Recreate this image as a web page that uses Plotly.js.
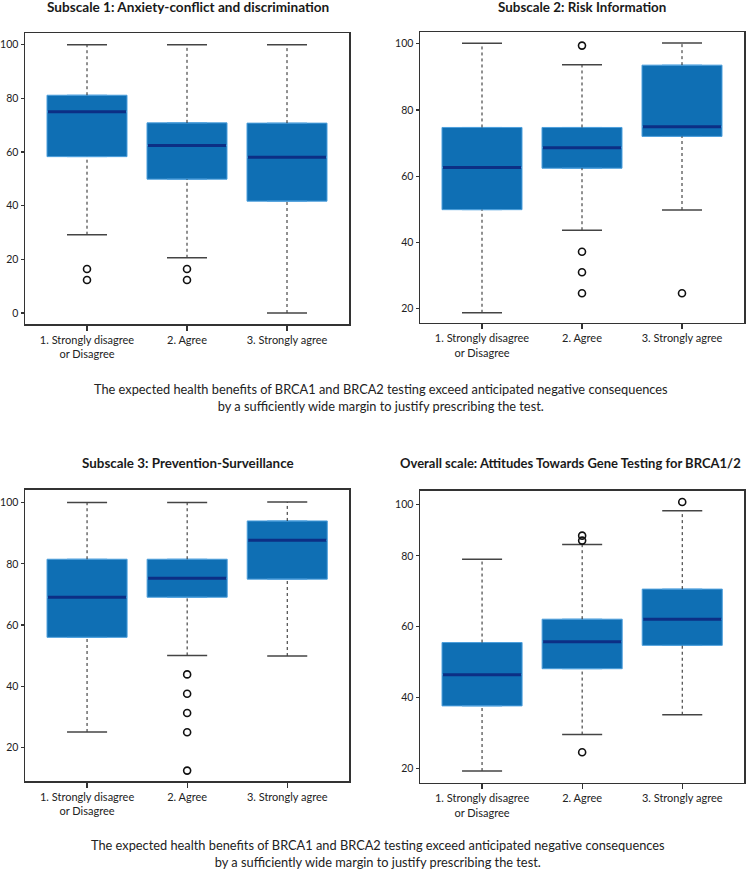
<!DOCTYPE html>
<html>
<head>
<meta charset="utf-8">
<script src="https://cdn.plot.ly/plotly-3.0.1.min.js"></script>
<style>html,body{margin:0;padding:0;background:#fff;}#chart{width:750px;height:870px;}</style>
</head>
<body>
<div id="chart"></div>
<script>
// ---- Data ----
const categories = ['1. Strongly disagree<br>or Disagree', '2. Agree', '3. Strongly agree'];

const panelTitles = [
  'Subscale 1: Anxiety-conflict and discrimination',
  'Subscale 2: Risk Information',
  'Subscale 3: Prevention-Surveillance',
  'Overall scale: Attitudes Towards Gene Testing for BRCA1/2'
];

const captionText = 'The expected health benefits of BRCA1 and BRCA2 testing exceed anticipated negative consequences<br>by a sufficiently wide margin to justify prescribing the test.';

// Subscale 1
const s1_lo  = [29.2, 20.6, 0];
const s1_q1  = [58.3, 49.9, 41.7];
const s1_med = [75.0, 62.5, 58.1];
const s1_q3  = [81.2, 70.9, 70.8];
const s1_hi  = [100, 100, 100];
const s1_out = [[16.4, 12.3], [16.4, 12.3], []];

// Subscale 2
const s2_lo  = [18.8, 43.7, 49.8];
const s2_q1  = [49.9, 62.4, 72.0];
const s2_med = [62.6, 68.6, 74.9];
const s2_q3  = [74.7, 74.7, 93.5];
const s2_hi  = [100.1, 93.6, 100.2];
const s2_out = [[], [99.4, 37.2, 31.0, 24.7], [24.7]];

// Subscale 3
const s3_lo  = [25.1, 50.1, 49.9];
const s3_q1  = [56.0, 69.1, 75.0];
const s3_med = [69.1, 75.3, 87.7];
const s3_q3  = [81.5, 81.5, 94.0];
const s3_hi  = [100, 100, 100.2];
const s3_out = [[], [43.9, 37.6, 31.3, 25.0, 12.5], []];

// Overall scale
const s4_lo  = [19.2, 29.5, 35.1];
const s4_q1  = [37.6, 48.1, 54.7];
const s4_med = [46.4, 55.7, 62.1];
const s4_q3  = [55.5, 62.1, 70.6];
const s4_hi  = [79.0, 83.2, 92.7];
const s4_out = [[], [85.7, 84.3, 24.5], [95.2]];

const yTickVals = [[0, 20, 40, 60, 80, 100], [20, 40, 60, 80, 100], [20, 40, 60, 80, 100], [20, 40, 60, 80, 94.6]];
const yTickText = [['0', '20', '40', '60', '80', '100'], ['20', '40', '60', '80', '100'], ['20', '40', '60', '80', '100'], ['20', '40', '60', '80', '100']];

// ---- Styling / layout ----
const FONT = 'Lato, "Open Sans", sans-serif';
const boxFill = '#0f6fb4';
const boxLine = '#4d9fdc';
const medColor = '#0c2f85';
const panels = [
  {lo: s1_lo, q1: s1_q1, med: s1_med, q3: s1_q3, hi: s1_hi, out: s1_out, yr: [-4.1, 104.4], dx: [25, 349], dy: [33, 324]},
  {lo: s2_lo, q1: s2_q1, med: s2_med, q3: s2_q3, hi: s2_hi, out: s2_out, yr: [15.8, 103.5], dx: [420, 744], dy: [32, 322.7]},
  {lo: s3_lo, q1: s3_q1, med: s3_med, q3: s3_q3, hi: s3_hi, out: s3_out, yr: [9.1, 104.2], dx: [25, 349.3], dy: [489.7, 781]},
  {lo: s4_lo, q1: s4_q1, med: s4_med, q3: s4_q3, hi: s4_hi, out: s4_out, yr: [15.9, 98.4], dx: [420, 744.3], dy: [490.7, 782.7]}
];
const W = 750, H = 870;
const boxW = 0.8, capW = 0.4;

const traces = [];
const layout = {
  width: W, height: H,
  margin: {l: 0, r: 0, t: 0, b: 0},
  paper_bgcolor: '#fff', plot_bgcolor: '#fff',
  showlegend: false,
  font: {family: FONT, color: '#222'},
  annotations: []
};

panels.forEach((p, i) => {
  const n = i === 0 ? '' : String(i + 1);
  const xa = 'x' + n, ya = 'y' + n;
  const xs = [0, 1, 2];
  traces.push({
    type: 'box', xaxis: xa, yaxis: ya,
    x: xs, q1: p.q1, median: p.med, q3: p.q3, lowerfence: p.q1, upperfence: p.q3,
    width: boxW, fillcolor: boxFill, line: {color: boxLine, width: 1},
    boxpoints: false, hoverinfo: 'skip'
  });
  const wx = [], wy = [], cx = [], cy = [], mx = [], my = [], ox = [], oy = [];
  xs.forEach(j => {
    wx.push(j, j, null, j, j, null);
    wy.push(p.q3[j], p.hi[j], null, p.lo[j], p.q1[j], null);
    cx.push(j - capW / 2, j + capW / 2, null, j - capW / 2, j + capW / 2, null);
    cy.push(p.hi[j], p.hi[j], null, p.lo[j], p.lo[j], null);
    mx.push(j - boxW / 2 + 0.01, j + boxW / 2 - 0.01, null);
    my.push(p.med[j], p.med[j], null);
    p.out[j].forEach(v => { ox.push(j); oy.push(v); });
  });
  traces.push({type: 'scatter', mode: 'lines', xaxis: xa, yaxis: ya, x: wx, y: wy,
    line: {color: '#222', width: 1, dash: 'dot'}, hoverinfo: 'skip'});
  traces.push({type: 'scatter', mode: 'lines', xaxis: xa, yaxis: ya, x: cx, y: cy,
    line: {color: '#444', width: 1.5}, hoverinfo: 'skip'});
  traces.push({type: 'scatter', mode: 'lines', xaxis: xa, yaxis: ya, x: mx, y: my,
    line: {color: medColor, width: 3}, hoverinfo: 'skip'});
  traces.push({type: 'scatter', mode: 'markers', xaxis: xa, yaxis: ya, x: ox, y: oy,
    marker: {symbol: 'circle-open', size: 7, color: '#111', line: {width: 1.6, color: '#111'}}, hoverinfo: 'skip'});

  const axCommon = {showline: true, mirror: true, linecolor: '#333', linewidth: 1.5,
    ticks: 'outside', ticklen: 4, tickcolor: '#333', tickwidth: 1.3,
    showgrid: false, zeroline: false, fixedrange: true,
    tickfont: {family: FONT, size: 11, color: '#222'}};
  layout['xaxis' + n] = Object.assign({}, axCommon, {
    domain: [p.dx[0] / W, p.dx[1] / W], anchor: ya, range: [-0.62, 2.62],
    tickmode: 'array', tickvals: xs, ticktext: categories, ticklen: 5
  });
  layout['yaxis' + n] = Object.assign({}, axCommon, {
    domain: [1 - p.dy[1] / H, 1 - p.dy[0] / H], anchor: xa, range: p.yr,
    tickmode: 'array', tickvals: yTickVals[i], ticktext: yTickText[i],
    ticklen: 3, tickfont: {family: FONT, size: 10.5, color: '#222'}
  });
});

// panel titles
const titlePos = [[188, 7], [582, 7], [188, 463], [570, 463]];
const titleSize = [13.6, 13.4, 13.4, 13];
panelTitles.forEach((t, i) => {
  layout.annotations.push({text: '<b>' + t + '</b>', xref: 'paper', yref: 'paper',
    x: titlePos[i][0] / W, y: 1 - titlePos[i][1] / H, xanchor: 'center', yanchor: 'middle',
    showarrow: false, font: {family: FONT, size: titleSize[i], color: '#1a1a1a'}});
});
// captions
[[381, 398], [378, 853]].forEach(pos => {
  layout.annotations.push({text: captionText, xref: 'paper', yref: 'paper',
    x: pos[0] / W, y: 1 - pos[1] / H, xanchor: 'center', yanchor: 'middle', showarrow: false,
    font: {family: FONT, size: 12.8, color: '#222'}});
});

Plotly.newPlot('chart', traces, layout, {staticPlot: true, displayModeBar: false});
</script>
</body>
</html>
